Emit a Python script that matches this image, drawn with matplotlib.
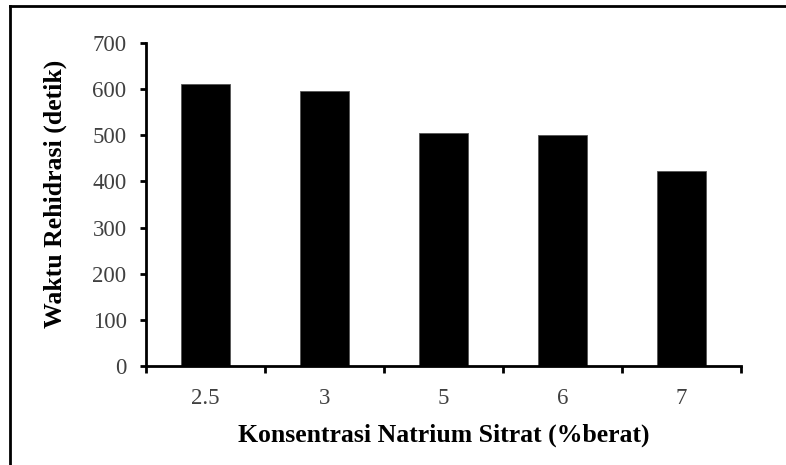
import matplotlib
matplotlib.use("Agg")
import matplotlib.pyplot as plt
from matplotlib.lines import Line2D
import numpy as np

categories = ["2.5", "3", "5", "6", "7"]
values = [612, 595, 504, 501, 423]
yticks = [0, 100, 200, 300, 400, 500, 600, 700]

W, H = 786, 465
fig = plt.figure(figsize=(W/100, H/100), dpi=100)
ax = fig.add_axes([146/W, (H-366)/H, (741-146)/W, (366-43)/H])

x = np.arange(len(categories))
ax.bar(x, values, width=0.417, color="black", edgecolor="#555555", linewidth=0.6, zorder=2)

ax.set_xlim(-0.5, len(categories)-0.5)
ax.set_ylim(0, 700)
ax.set_yticks(yticks)
ax.set_yticklabels([str(t) for t in yticks])
ax.set_xticks(x)
ax.set_xticklabels(categories)
ax.set_xticks(np.arange(len(categories)+1) - 0.5, minor=True)

for s in ["top", "right"]:
    ax.spines[s].set_visible(False)
for s in ["left", "bottom"]:
    ax.spines[s].set_linewidth(2.0)
    ax.spines[s].set_color("black")

ax.tick_params(axis="y", which="major", direction="out", length=4, width=2.0,
               color="black", labelcolor="#404040", pad=10, labelsize=16.5)
ax.tick_params(axis="x", which="major", length=0, labelcolor="#404040", pad=16, labelsize=16.5)
ax.tick_params(axis="x", which="minor", direction="out", length=5, width=2.0, color="black")
for lab in ax.get_xticklabels() + ax.get_yticklabels():
    lab.set_family("Liberation Serif")

ax.set_xlabel("Konsentrasi Natrium Sitrat (%berat)", family="Liberation Serif",
              fontsize=18.5, fontweight="bold", labelpad=10)
ax.set_ylabel("Waktu Rehidrasi (detik)", family="Liberation Serif",
              fontsize=18.5, fontweight="bold", labelpad=18)
ax.yaxis.label.set_y(0.532)

# figure frame (top and left)
fig.add_artist(Line2D([10/W, 1.0], [(H-6)/H, (H-6)/H], transform=fig.transFigure,
                      color="black", linewidth=2.0))
fig.add_artist(Line2D([10/W, 10/W], [0, (H-6)/H], transform=fig.transFigure,
                      color="black", linewidth=2.0))

fig.savefig("out.png", dpi=100)
